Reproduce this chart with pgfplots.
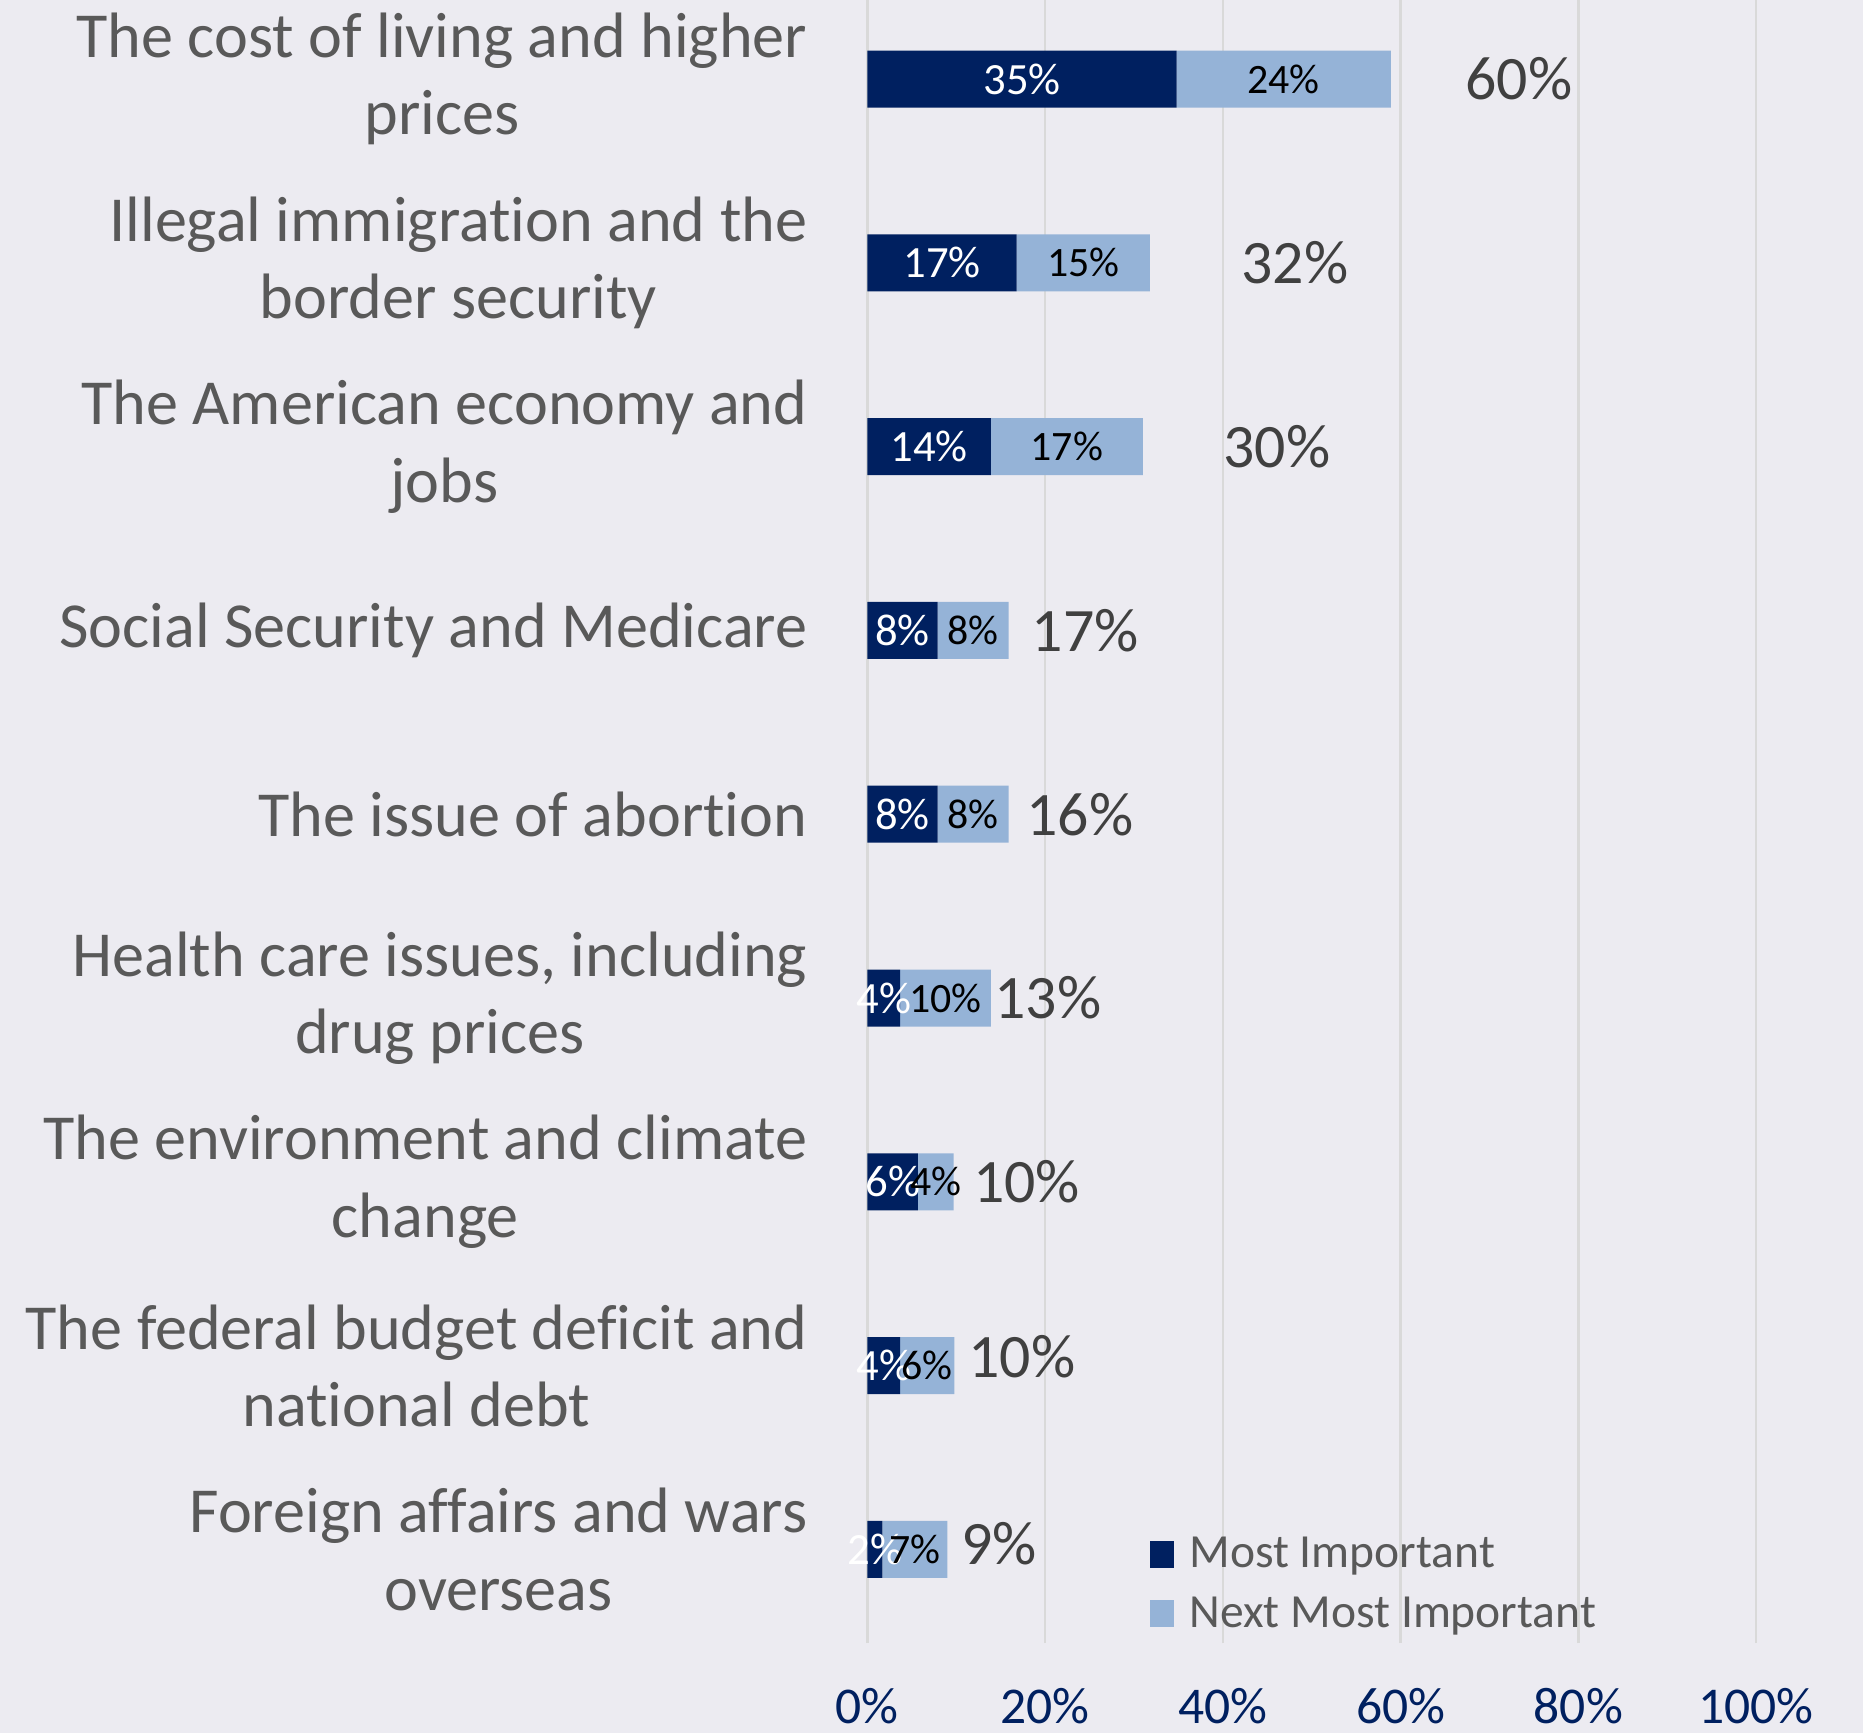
\documentclass[border=0pt]{standalone}
\usepackage{pgfplots}
\pgfplotsset{compat=1.18}
\usepackage{pgfplotstable}
\usepackage{fontspec}
\setmainfont[Ligatures=CommonOff]{Carlito}
\definecolor{bgc}{RGB}{236,235,241}
\definecolor{navy}{RGB}{0,32,96}
\definecolor{lblue}{RGB}{149,179,215}
\definecolor{gridc}{RGB}{217,217,217}
\definecolor{labc}{RGB}{89,89,89}
\definecolor{totc}{RGB}{64,64,64}

\pgfplotstableread{
y a b la lb tot tx ty
8 34.8 24.1 35 24 60 73.3 8
7 16.8 15.0 17 15 32 48.1 7
6 13.9 17.1 14 17 30 46.1 6
5 7.9 8.0 8 8 17 24.5 5
4 7.9 8.0 8 8 16 23.9 4
3 3.7 10.2 4 10 13 20.3 3
2 5.7 4.0 6 4 10 17.9 2
1 3.7 6.1 4 6 10 17.4 1.05
0 1.7 7.3 2 7 9 14.8 0.03
}\data

\pgfkeys{/pgf/number format/assume math mode=true}
\pgfplotsset{common/.style={at={(365pt,38pt)}, anchor=south west, scale only axis,
  width=374pt, height=691.5pt, xmin=0, xmax=100, ymin=-0.51, ymax=8.43}}

\begin{document}
\begin{tikzpicture}
\path[use as bounding box, fill=bgc] (0,0) rectangle (784pt,729.5pt);
\begin{axis}[common,
  xbar stacked, bar width=24pt,
  axis line style={draw=none}, major tick length=0pt,
  xtick={0,20,...,100},
  xmajorgrids, major grid style={gridc, line width=1pt},
  xticklabel={\pgfmathprintnumber[assume math mode=true]{\tick}\%},
  xticklabel style={font=\fontsize{21.7}{26}\selectfont, text=navy, anchor=base, yshift=-34pt},
  ytick={0,...,8},
  yticklabels={{Foreign affairs and wars\\overseas},
    {The federal budget deficit and\\national debt},
    {The environment and climate\\change},
    {Health care issues, including\\drug prices},
    {The issue of abortion},
    {Social Security and Medicare},
    {The American economy and\\jobs},
    {Illegal immigration and the\\border security},
    {The cost of living and higher\\prices}},
  yticklabel style={font=\fontsize{27}{32.5}\selectfont, text=labc, align=center, anchor=east, xshift=-21.7pt},
  legend style={draw=none, fill=none, font=\fontsize{20}{24}\selectfont, text=labc,
    at={(0.318,0.036)}, anchor=west, inner sep=0pt, row sep=6.5pt, column sep=4.5pt},
  legend cell align=left,
  legend image code/.code={\fill[#1] (0pt,-5.5pt) rectangle (10pt,5.5pt);},
]
\addplot[fill=navy, draw=none] table[x=a, y=y]{\data};
\addplot[fill=lblue, draw=none] table[x=b, y=y]{\data};
\legend{Most Important, Next Most Important}
\end{axis}
\begin{axis}[common, hide axis, clip=false]
\addplot[draw=none, point meta=explicit,
  nodes near coords={\pgfmathprintnumber[assume math mode=true]{\pgfplotspointmeta}\%},
  every node near coord/.style={anchor=center, text=white, font=\fontsize{18.8}{20}\selectfont}]
  table[x expr=\thisrow{a}/2, y=y, meta=la]{\data};
\addplot[draw=none, point meta=explicit,
  nodes near coords={\pgfmathprintnumber[assume math mode=true]{\pgfplotspointmeta}\%},
  every node near coord/.style={anchor=center, text=black, font=\fontsize{17.6}{20}\selectfont}]
  table[x expr=\thisrow{a}+\thisrow{b}/2, y=y, meta=lb]{\data};
\addplot[draw=none, point meta=explicit,
  nodes near coords={\pgfmathprintnumber[assume math mode=true]{\pgfplotspointmeta}\%},
  every node near coord/.style={anchor=center, text=totc, font=\fontsize{26}{30}\selectfont}]
  table[x=tx, y=ty, meta=tot]{\data};
\end{axis}
\end{tikzpicture}
\end{document}
